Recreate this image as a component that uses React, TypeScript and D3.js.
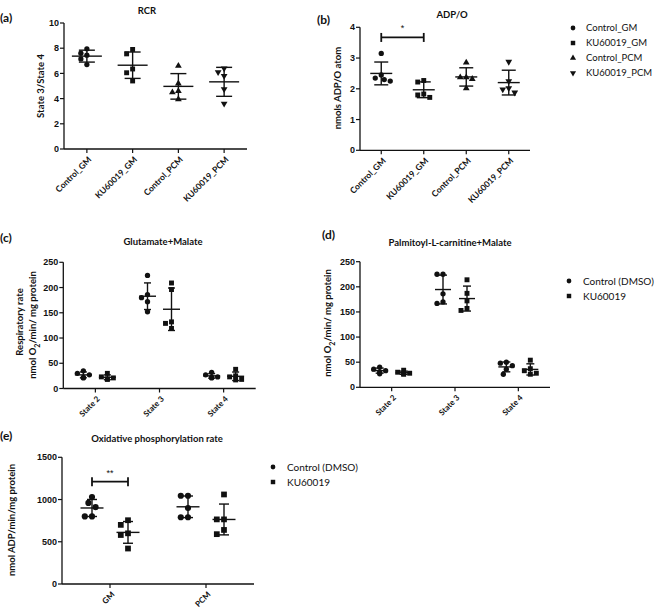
import React from 'react';
import * as d3 from 'd3';

// ---------- DATA ----------
const rcrCategories = ['Control_GM', 'KU60019_GM', 'Control_PCM', 'KU60019_PCM'];
const rcrValues = [
  [7.6, 7.45, 7.95, 7.15, 6.7],
  [7.55, 7.9, 6.35, 6.05, 5.4],
  [6.6, 5.2, 4.6, 4.5, 3.95],
  [6.4, 6.1, 5.8, 4.75, 3.6],
];
const rcrTicks = [0, 2, 4, 6, 8, 10];

const adpoCategories = ['Control_GM', 'KU60019_GM', 'Control_PCM', 'KU60019_PCM'];
const adpoValues = [
  [3.15, 2.45, 2.35, 2.3, 2.25],
  [2.27, 2.22, 1.8, 1.72, 1.83],
  [2.85, 2.37, 2.32, 2.37, 2.02],
  [2.88, 2.25, 2.02, 1.98, 1.88],
];
const adpoTicks = [0, 1, 2, 3, 4];
const adpoSig = { from: 0, to: 1, level: 3.67, label: '*' };

const stateCategories = ['State 2', 'State 3', 'State 4'];
const gmControl = [
  [35, 30, 27, 22, 21],
  [224, 186, 180, 172, 152],
  [32, 27, 23, 22, 21],
];
const gmKU = [
  [30, 23, 21, 19, 18],
  [209, 196, 132, 129, 119],
  [38, 25, 23, 18, 17],
];
const pcmControl = [
  [40, 36, 33, 30, 27],
  [225, 225, 186, 167, 170],
  [50, 48, 43, 36, 26],
];
const pcmKU = [
  [34, 30, 28, 27, 26],
  [214, 187, 172, 153, 157],
  [54, 37, 33, 28, 26],
];
const respTicks = [0, 50, 100, 150, 200, 250];

const oxCategories = ['GM', 'PCM'];
const oxControl = [
  [1030, 960, 910, 800, 800],
  [1045, 1045, 900, 790, 790],
];
const oxKU = [
  [755, 700, 600, 580, 420],
  [1060, 765, 765, 640, 590],
];
const oxTicks = [0, 500, 1000, 1500];
const oxSig = { from: 0, to: 0, level: 1211, label: '**' };

const legend1 = ['Control_GM', 'KU60019_GM', 'Control_PCM', 'KU60019_PCM'];
const legend2 = ['Control (DMSO)', 'KU60019'];

// ---------- STYLE ----------
const TXT = "Lato, 'Open Sans', sans-serif";
const NUM = "'Liberation Sans', Arial, sans-serif";
const INK = '#111';

type Item = { ci: number; dx: number; vals: number[]; sym: number };

const symbolTypes = [d3.symbolCircle, d3.symbolSquare, d3.symbolTriangle, d3.symbolTriangle];

function Sym({ x, y, kind, size }: { x: number; y: number; kind: number; size: number }) {
  const s = kind >= 2 ? size * 0.9 : kind === 1 ? size * 1.1 : size;
  const p = d3.symbol().type(symbolTypes[kind]).size(s)()!;
  const rot = kind === 3 ? ' rotate(180)' : '';
  return <path d={p} transform={`translate(${x},${y})${rot}`} fill={INK} />;
}

function swarm(vals: number[], y: (v: number) => number, diam: number): number[] {
  const order = vals.map((v, i) => i).sort((a, b) => vals[b] - vals[a]);
  const placed: { x: number; y: number }[] = [];
  const out = new Array(vals.length).fill(0);
  for (const i of order) {
    const yy = y(vals[i]);
    const cands = [0, -1, 1, -2, 2, -3, 3].map((k) => k * diam * 0.6);
    let chosen = 0;
    for (const c of cands) {
      const ok = placed.every((p) => Math.hypot(p.x - c, p.y - yy) >= diam * 1.1);
      if (ok) { chosen = c; break; }
    }
    placed.push({ x: chosen, y: yy });
    out[i] = chosen;
  }
  return out;
}

interface PanelCfg {
  cats: string[];
  items: Item[];
  x0: number; x1: number;
  yTopPx: number; yBotPx: number; yMax: number;
  ticks: number[];
  meanW: number; capW: number; symSize: number; diam: number;
  catFont: number;
  sig?: { from: number; to: number; level: number; label: string; dx?: number[] };
}

function Panel({ cfg }: { cfg: PanelCfg }) {
  const x = d3.scaleBand<string>().domain(cfg.cats).range([cfg.x0, cfg.x1]).paddingInner(0).paddingOuter(0);
  const y = d3.scaleLinear().domain([0, cfg.yMax]).range([cfg.yBotPx, cfg.yTopPx]);
  const cx = (i: number) => (x(cfg.cats[i]) as number) + x.bandwidth() / 2;
  const lw = 1.4;
  return (
    <g>
      {cfg.items.map((it, k) => {
        const c = cx(it.ci) + it.dx;
        const offs = swarm(it.vals, y, cfg.diam);
        const mean = d3.mean(it.vals)!;
        const sd = d3.deviation(it.vals)!;
        return (
          <g key={k}>
            {it.vals.map((v, j) => (
              <Sym key={j} x={c + offs[j]} y={y(v)} kind={it.sym} size={cfg.symSize} />
            ))}
            <line x1={c} x2={c} y1={y(mean - sd)} y2={y(mean + sd)} stroke={INK} strokeWidth={lw} />
            <line x1={c - cfg.capW / 2} x2={c + cfg.capW / 2} y1={y(mean + sd)} y2={y(mean + sd)} stroke={INK} strokeWidth={lw} />
            <line x1={c - cfg.capW / 2} x2={c + cfg.capW / 2} y1={y(mean - sd)} y2={y(mean - sd)} stroke={INK} strokeWidth={lw} />
            <line x1={c - cfg.meanW / 2} x2={c + cfg.meanW / 2} y1={y(mean)} y2={y(mean)} stroke={INK} strokeWidth={lw} />
          </g>
        );
      })}
      {/* axes */}
      <line x1={cfg.x0} x2={cfg.x0} y1={cfg.yBotPx} y2={cfg.yTopPx} stroke={INK} strokeWidth={1.3} />
      <line x1={cfg.x0} x2={cfg.x1} y1={cfg.yBotPx} y2={cfg.yBotPx} stroke={INK} strokeWidth={1.3} />
      {cfg.ticks.map((t) => (
        <g key={t}>
          <line x1={cfg.x0 - 4} x2={cfg.x0} y1={y(t)} y2={y(t)} stroke={INK} strokeWidth={1.2} />
          <text x={cfg.x0 - 5} y={y(t)} dy="0.35em" textAnchor="end" fontFamily={NUM} fontSize={9} fontWeight={700} fill={INK}>
            {t}
          </text>
        </g>
      ))}
      {cfg.cats.map((c, i) => (
        <g key={c}>
          <line x1={cx(i)} x2={cx(i)} y1={cfg.yBotPx} y2={cfg.yBotPx + 4} stroke={INK} strokeWidth={1.2} />
          <text transform={`translate(${cx(i) + 3},${cfg.yBotPx + 9}) rotate(-45)`} textAnchor="end" dy="0.35em" fontFamily={TXT} fontSize={cfg.catFont} fontWeight={700} fill={INK}>
            {c}
          </text>
        </g>
      ))}
      {cfg.sig && (() => {
        const s = cfg.sig!;
        const xa = cx(s.from) + (s.dx ? s.dx[0] : 0);
        const xb = cx(s.to) + (s.dx ? s.dx[1] : 0);
        const ys = y(s.level);
        return (
          <g>
            <line x1={xa} x2={xb} y1={ys} y2={ys} stroke={INK} strokeWidth={1.8} />
            <line x1={xa} x2={xa} y1={ys - 4.5} y2={ys + 4.5} stroke={INK} strokeWidth={1.8} />
            <line x1={xb} x2={xb} y1={ys - 4.5} y2={ys + 4.5} stroke={INK} strokeWidth={1.8} />
            <text x={(xa + xb) / 2} y={ys - 6} textAnchor="middle" fontFamily={NUM} fontSize={9} fill={INK}>{s.label}</text>
          </g>
        );
      })()}
    </g>
  );
}

function Legend({ x, y, labels, kinds, step, gap = 14, size = 10 }: { x: number; y: number; labels: string[]; kinds: number[]; step: number; gap?: number; size?: number }) {
  return (
    <g>
      {labels.map((l, i) => (
        <g key={l}>
          <Sym x={x} y={y + i * step} kind={kinds[i]} size={18} />
          <text x={x + gap} y={y + i * step} dy="0.35em" fontFamily={TXT} fontSize={size} fill={INK}>{l}</text>
        </g>
      ))}
    </g>
  );
}

const T = ({ x, y, children, size = 10, bold = false, anchor = 'start', rot = 0, weight }: any) => (
  <text
    transform={`translate(${x},${y})${rot ? ` rotate(${rot})` : ''}`}
    textAnchor={anchor}
    dy="0.35em"
    fontFamily={TXT}
    fontSize={size}
    fontWeight={weight ?? (bold ? 700 : 400)}
    fill={INK}
  >
    {children}
  </text>
);

export default function App() {
  const rcrItems: Item[] = rcrValues.map((v, i) => ({ ci: i, dx: 0, vals: v, sym: i }));
  const adpoItems: Item[] = adpoValues.map((v, i) => ({ ci: i, dx: 0, vals: v, sym: i }));
  const pair = (a: number[][], b: number[][], d: number): Item[] =>
    a.flatMap((v, i) => [
      { ci: i, dx: -d, vals: v, sym: 0 },
      { ci: i, dx: d, vals: b[i], sym: 1 },
    ]);

  return (
    <svg width={654} height={608} style={{ position: 'absolute', left: 0, top: 0, background: '#fff' }}>
      <rect width={654} height={608} fill="#fff" />
      {/* (a) */}
      <T x={0} y={18} size={12} bold>(a)</T>
      <T x={147} y={11} size={9.5} bold anchor="middle">RCR</T>
      <T x={41} y={86} size={9.5} anchor="middle" rot={-90} weight={700}>State 3/State 4</T>
      <Panel cfg={{ cats: rcrCategories, items: rcrItems, x0: 64, x1: 247, yTopPx: 23, yBotPx: 149, yMax: 10, ticks: rcrTicks, meanW: 30, capW: 16, symSize: 22, diam: 5, catFont: 8.5 }} />

      {/* (b) */}
      <T x={317} y={20} size={12} bold>(b)</T>
      <T x={452} y={15} size={9.5} bold anchor="middle">ADP/O</T>
      <T x={338} y={88} size={9.5} anchor="middle" rot={-90} weight={700}>nmols  ADP/O atom</T>
      <Panel cfg={{ cats: adpoCategories, items: adpoItems, x0: 360, x1: 530, yTopPx: 27.3, yBotPx: 150.3, yMax: 4, ticks: adpoTicks, meanW: 22, capW: 14, symSize: 22, diam: 5, catFont: 8.5, sig: adpoSig }} />
      <Legend x={573} y={28} labels={legend1} kinds={[0, 1, 2, 3]} step={15} gap={13} size={9.5} />

      {/* (c) */}
      <T x={0} y={238} size={12} bold>(c)</T>
      <T x={163} y={242} size={9.5} bold anchor="middle">Glutamate+Malate</T>
      <T x={20} y={322} size={9.5} anchor="middle" rot={-90} weight={700}>Respiratory rate</T>
      <text transform="translate(33,325) rotate(-90)" textAnchor="middle" dy="0.35em" fontFamily={TXT} fontSize={9.5} fontWeight={700} fill={INK}>
        nmol O<tspan baselineShift="sub" fontSize={7}>2</tspan>/min/ mg protein
      </text>
      <Panel cfg={{ cats: stateCategories, items: pair(gmControl, gmKU, 12), x0: 63.3, x1: 255.7, yTopPx: 262.3, yBotPx: 388.5, yMax: 250, ticks: respTicks, meanW: 17, capW: 7, symSize: 22, diam: 5, catFont: 8 }} />

      {/* (d) */}
      <T x={322} y={235} size={12} bold>(d)</T>
      <T x={450} y={243} size={9.5} bold anchor="middle">Palmitoyl-L-carnitine+Malate</T>
      <text transform="translate(328,323) rotate(-90)" textAnchor="middle" dy="0.35em" fontFamily={TXT} fontSize={9.5} fontWeight={700} fill={INK}>
        nmol O<tspan baselineShift="sub" fontSize={7}>2</tspan>/min/ mg protein
      </text>
      <Panel cfg={{ cats: stateCategories, items: pair(pcmControl, pcmKU, 12), x0: 360, x1: 550, yTopPx: 261.7, yBotPx: 387.3, yMax: 250, ticks: respTicks, meanW: 16, capW: 8, symSize: 22, diam: 5, catFont: 8 }} />
      <Legend x={569} y={281} labels={legend2} kinds={[0, 1]} step={15} />

      {/* (e) */}
      <T x={0} y={436} size={12} bold>(e)</T>
      <T x={157} y={439} size={9.5} bold anchor="middle">Oxidative phosphorylation rate</T>
      <T x={12} y={520} size={9.5} anchor="middle" rot={-90} weight={700}>nmol ADP/min/mg protein</T>
      <Panel cfg={{ cats: oxCategories, items: pair(oxControl, oxKU, 18), x0: 62, x1: 254, yTopPx: 457.3, yBotPx: 584, yMax: 1500, ticks: oxTicks, meanW: 23, capW: 10, symSize: 30, diam: 6, catFont: 8, sig: { ...oxSig, dx: [-18, 18] } }} />
      <Legend x={273} y={467} labels={legend2} kinds={[0, 1]} step={15} />
    </svg>
  );
}
